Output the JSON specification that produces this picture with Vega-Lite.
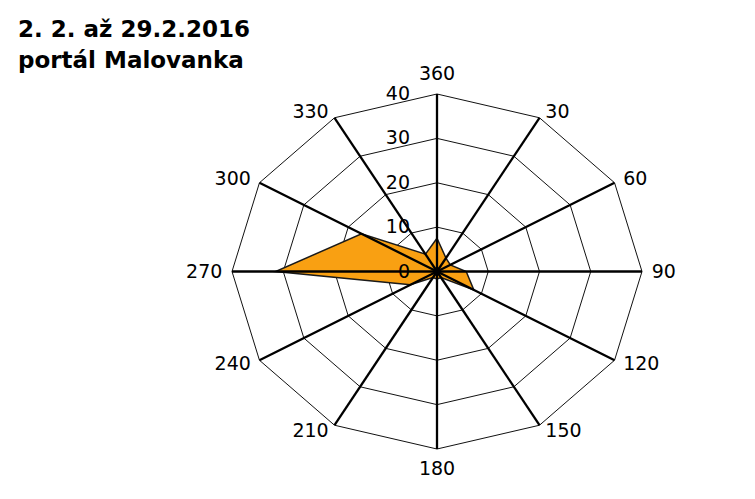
{
  "$schema": "https://vega.github.io/schema/vega-lite/v6.json",
  "width": 410,
  "height": 355,
  "autosize": "none",
  "padding": {"left": 232, "top": 94, "right": 113, "bottom": 50},
  "background": "white",
  "config": {"view": {"stroke": null}, "font": "DejaVu Sans"},
  "title": {
    "text": ["2. 2. až 29.2.2016", "portál Malovanka"],
    "orient": "top",
    "anchor": "start",
    "frame": "group",
    "dx": -214,
    "dy": 52,
    "offset": 21,
    "baseline": "bottom",
    "font": "DejaVu Sans",
    "fontSize": 23,
    "fontWeight": "bold",
    "lineHeight": 31,
    "color": "#000"
  },
  "datasets": {
    "wind": [
      {"dir": 0, "value": 7.5},
      {"dir": 30, "value": 3.5},
      {"dir": 60, "value": 3},
      {"dir": 90, "value": 5.7},
      {"dir": 120, "value": 8.3},
      {"dir": 150, "value": 1.6},
      {"dir": 180, "value": 1.7},
      {"dir": 210, "value": 1.6},
      {"dir": 240, "value": 6},
      {"dir": 270, "value": 31.5},
      {"dir": 300, "value": 17},
      {"dir": 330, "value": 4.5}
    ],
    "rings": [
      {"ring": 10, "dir": [0, 30, 60, 90, 120, 150, 180, 210, 240, 270, 300, 330]},
      {"ring": 20, "dir": [0, 30, 60, 90, 120, 150, 180, 210, 240, 270, 300, 330]},
      {"ring": 30, "dir": [0, 30, 60, 90, 120, 150, 180, 210, 240, 270, 300, 330]},
      {"ring": 40, "dir": [0, 30, 60, 90, 120, 150, 180, 210, 240, 270, 300, 330]}
    ],
    "dirs": [
      {"dir": 0, "label": "360"},
      {"dir": 30, "label": "30"},
      {"dir": 60, "label": "60"},
      {"dir": 90, "label": "90"},
      {"dir": 120, "label": "120"},
      {"dir": 150, "label": "150"},
      {"dir": 180, "label": "180"},
      {"dir": 210, "label": "210"},
      {"dir": 240, "label": "240"},
      {"dir": 270, "label": "270"},
      {"dir": 300, "label": "300"},
      {"dir": 330, "label": "330"}
    ],
    "ringLabels": [
      {"ring": 0, "label": "0"},
      {"ring": 10, "label": "10"},
      {"ring": 20, "label": "20"},
      {"ring": 30, "label": "30"},
      {"ring": 40, "label": "40"}
    ]
  },
  "layer": [
    {
      "data": {"name": "rings"},
      "transform": [
        {"flatten": ["dir"]},
        {"calculate": "datum.ring*sin(datum.dir*PI/180)", "as": "x"},
        {"calculate": "datum.ring*cos(datum.dir*PI/180)", "as": "y"}
      ],
      "mark": {"type": "line", "interpolate": "linear-closed", "stroke": "#111", "strokeWidth": 1},
      "encoding": {
        "x": {"field": "x", "type": "quantitative", "scale": {"domain": [-40, 40], "nice": false, "zero": false}, "axis": null},
        "y": {"field": "y", "type": "quantitative", "scale": {"domain": [-40, 40], "nice": false, "zero": false}, "axis": null},
        "detail": {"field": "ring", "type": "nominal"},
        "order": {"field": "dir", "type": "quantitative"}
      }
    },
    {
      "data": {"name": "wind"},
      "transform": [
        {"calculate": "datum.value*sin(datum.dir*PI/180)", "as": "x"},
        {"calculate": "datum.value*cos(datum.dir*PI/180)", "as": "y"}
      ],
      "mark": {"type": "line", "interpolate": "linear-closed", "fill": "#F9A012", "stroke": "#1a1a1a", "strokeWidth": 1.5},
      "encoding": {
        "x": {"field": "x", "type": "quantitative", "scale": {"domain": [-40, 40], "nice": false, "zero": false}, "axis": null},
        "y": {"field": "y", "type": "quantitative", "scale": {"domain": [-40, 40], "nice": false, "zero": false}, "axis": null},
        "order": {"field": "dir", "type": "quantitative"}
      }
    },
    {
      "data": {"name": "dirs"},
      "transform": [
        {"calculate": "0", "as": "x0"},
        {"calculate": "40*sin(datum.dir*PI/180)", "as": "x"},
        {"calculate": "40*cos(datum.dir*PI/180)", "as": "y"}
      ],
      "mark": {"type": "rule", "stroke": "#000", "strokeWidth": 2.3},
      "encoding": {
        "x": {"field": "x0", "type": "quantitative", "scale": {"domain": [-40, 40], "nice": false, "zero": false}, "axis": null},
        "y": {"field": "x0", "type": "quantitative", "scale": {"domain": [-40, 40], "nice": false, "zero": false}, "axis": null},
        "x2": {"field": "x"},
        "y2": {"field": "y"}
      }
    },
    {
      "data": {"name": "ringLabels"},
      "transform": [
        {"filter": "datum.ring == 0"},
        {"calculate": "0", "as": "x"},
        {"calculate": "0", "as": "y"}
      ],
      "mark": {"type": "point", "filled": true, "color": "#000", "size": 70, "opacity": 1},
      "encoding": {
        "x": {"field": "x", "type": "quantitative", "scale": {"domain": [-40, 40], "nice": false, "zero": false}, "axis": null},
        "y": {"field": "y", "type": "quantitative", "scale": {"domain": [-40, 40], "nice": false, "zero": false}, "axis": null}
      }
    },
    {
      "data": {"name": "dirs"},
      "transform": [
        {"filter": "datum.dir > 0 && datum.dir < 180"},
        {"calculate": "41.5*sin(datum.dir*PI/180)", "as": "x"},
        {"calculate": "41.5*cos(datum.dir*PI/180)", "as": "y"}
      ],
      "mark": {"type": "text", "align": "left", "baseline": "middle", "dx": 2, "fontSize": 19, "color": "#000"},
      "encoding": {
        "x": {"field": "x", "type": "quantitative", "scale": {"domain": [-40, 40], "nice": false, "zero": false}, "axis": null},
        "y": {"field": "y", "type": "quantitative", "scale": {"domain": [-40, 40], "nice": false, "zero": false}, "axis": null},
        "text": {"field": "label"}
      }
    },
    {
      "data": {"name": "dirs"},
      "transform": [
        {"filter": "datum.dir > 180"},
        {"calculate": "41.5*sin(datum.dir*PI/180)", "as": "x"},
        {"calculate": "41.5*cos(datum.dir*PI/180)", "as": "y"}
      ],
      "mark": {"type": "text", "align": "right", "baseline": "middle", "dx": -2, "fontSize": 19, "color": "#000"},
      "encoding": {
        "x": {"field": "x", "type": "quantitative", "scale": {"domain": [-40, 40], "nice": false, "zero": false}, "axis": null},
        "y": {"field": "y", "type": "quantitative", "scale": {"domain": [-40, 40], "nice": false, "zero": false}, "axis": null},
        "text": {"field": "label"}
      }
    },
    {
      "data": {"name": "dirs"},
      "transform": [
        {"filter": "datum.dir == 0 || datum.dir == 180"},
        {"calculate": "44.5*sin(datum.dir*PI/180)", "as": "x"},
        {"calculate": "44.5*cos(datum.dir*PI/180)", "as": "y"}
      ],
      "mark": {"type": "text", "align": "center", "baseline": "middle", "fontSize": 19, "color": "#000"},
      "encoding": {
        "x": {"field": "x", "type": "quantitative", "scale": {"domain": [-40, 40], "nice": false, "zero": false}, "axis": null},
        "y": {"field": "y", "type": "quantitative", "scale": {"domain": [-40, 40], "nice": false, "zero": false}, "axis": null},
        "text": {"field": "label"}
      }
    },
    {
      "data": {"name": "ringLabels"},
      "transform": [
        {"calculate": "0", "as": "x"},
        {"calculate": "datum.ring", "as": "y"}
      ],
      "mark": {"type": "text", "align": "right", "baseline": "middle", "dx": -27, "fontSize": 19, "color": "#000"},
      "encoding": {
        "x": {"field": "x", "type": "quantitative", "scale": {"domain": [-40, 40], "nice": false, "zero": false}, "axis": null},
        "y": {"field": "y", "type": "quantitative", "scale": {"domain": [-40, 40], "nice": false, "zero": false}, "axis": null},
        "text": {"field": "label"}
      }
    }
  ]
}
